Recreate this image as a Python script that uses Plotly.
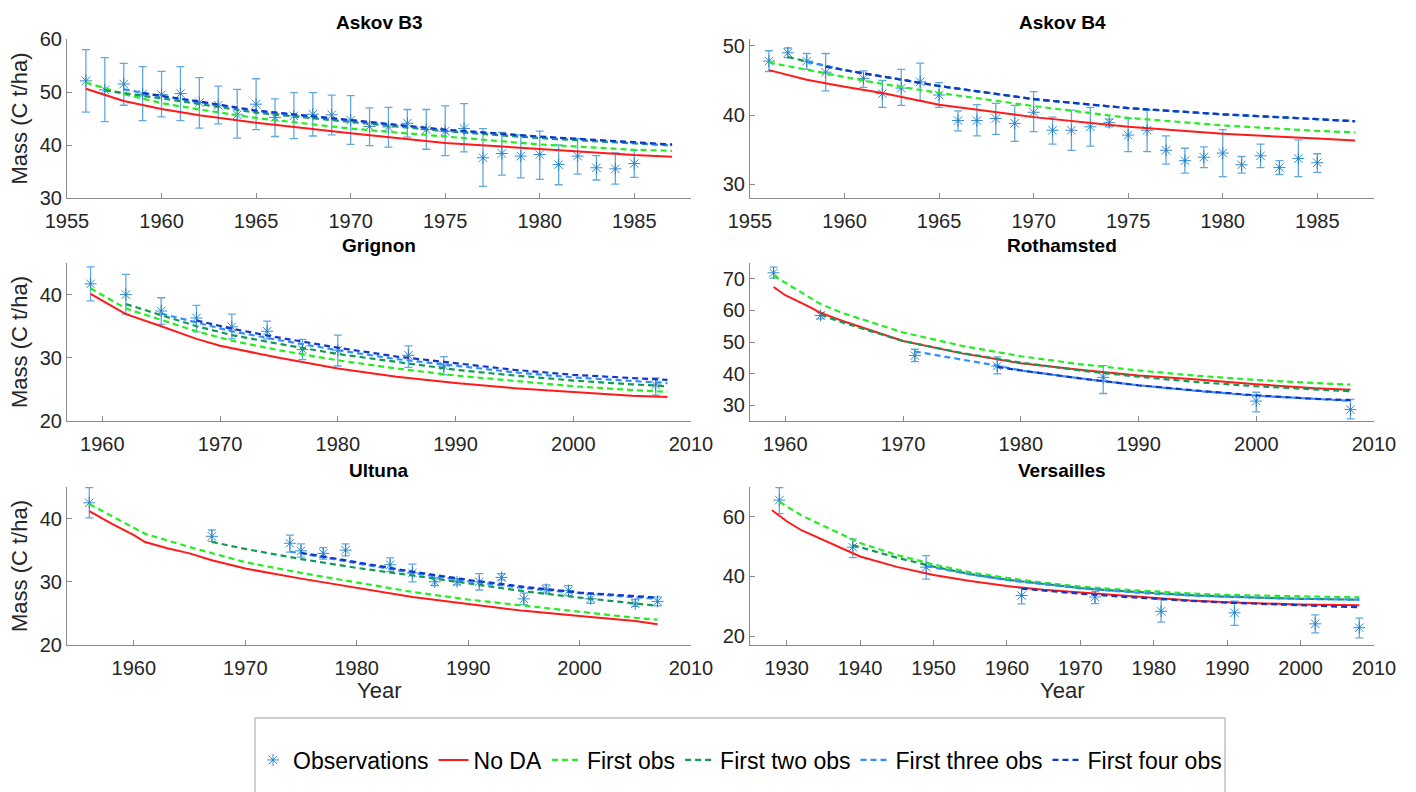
import plotly.graph_objects as go

# ---------------- Askov B3 ----------------
b3_obs_year = list(range(1956, 1986))
b3_obs_val = [52.1, 50.4, 51.5, 49.6, 49.5, 49.7, 48.0, 47.5, 45.7, 47.7, 45.2, 45.5, 45.8, 45.7, 44.7,
              43.5, 43.4, 44.1, 42.9, 42.6, 43.1, 37.6, 38.4, 37.9, 38.2, 36.3, 37.9, 35.7, 35.5, 36.5]
b3_obs_hi = [58.0, 56.5, 55.4, 54.8, 53.9, 54.8, 52.7, 51.1, 50.5, 52.5, 48.7, 49.9, 49.9, 49.4, 49.3,
             47.0, 47.1, 46.7, 46.7, 47.4, 47.8, 43.1, 42.4, 41.9, 42.6, 40.0, 41.2, 38.0, 38.5, 39.0]
b3_obs_lo = [46.2, 44.4, 47.5, 44.6, 45.3, 44.6, 43.2, 44.0, 41.3, 42.9, 41.6, 41.2, 41.7, 41.9, 40.1,
             39.9, 39.6, 41.5, 39.2, 38.0, 38.7, 32.2, 34.3, 33.8, 33.5, 32.5, 34.5, 33.4, 32.6, 33.9]
b3_noda_year = [1956, 1958, 1960, 1962, 1965, 1968, 1970, 1975, 1980, 1985, 1987]
b3_noda_val = [50.6, 48.3, 46.8, 45.6, 44.2, 43.0, 42.2, 40.4, 39.2, 38.1, 37.8]
b3_f1_year = [1956, 1958, 1960, 1962, 1965, 1970, 1975, 1980, 1985, 1987]
b3_f1_val = [51.8, 49.6, 47.9, 46.7, 45.1, 43.1, 41.6, 40.1, 39.1, 38.9]
b3_f2_year = [1957, 1960, 1965, 1970, 1975, 1980, 1985, 1987]
b3_f2_val = [50.3, 48.8, 46.1, 44.3, 42.6, 41.3, 40.3, 39.9]
b3_f3_year = [1958, 1960, 1962, 1965, 1970, 1975, 1980, 1985, 1987]
b3_f3_val = [50.5, 49.2, 48.1, 46.4, 44.6, 42.8, 41.5, 40.4, 40.0]
b3_f4_year = [1959, 1960, 1962, 1965, 1970, 1975, 1980, 1985, 1987]
b3_f4_val = [49.8, 49.3, 48.2, 46.5, 44.7, 42.9, 41.6, 40.5, 40.1]

# ---------------- Askov B4 ----------------
b4_obs_year = [1956, 1957, 1958, 1959, 1961, 1962, 1963, 1964, 1965, 1966, 1967, 1968, 1969, 1970,
               1971, 1972, 1973, 1974, 1975, 1976, 1977, 1978, 1979, 1980, 1981, 1982, 1983, 1984, 1985]
b4_obs_val = [47.8, 49.0, 47.8, 46.2, 45.3, 43.1, 43.9, 44.8, 42.9, 39.2, 39.2, 39.5, 38.8, 40.4,
              37.8, 37.8, 38.3, 38.9, 37.1, 37.8, 34.9, 33.4, 33.9, 34.5, 32.8, 34.1, 32.4, 33.7, 33.1]
b4_obs_hi = [49.3, 49.7, 48.9, 48.9, 46.4, 45.0, 46.6, 47.5, 44.7, 40.6, 41.5, 41.7, 41.4, 43.4,
             39.7, 40.7, 41.1, 39.4, 39.5, 40.7, 37.0, 35.2, 35.4, 37.9, 34.0, 35.8, 33.4, 36.4, 34.4]
b4_obs_lo = [46.3, 48.3, 46.6, 43.5, 44.0, 41.1, 41.4, 42.1, 41.1, 37.7, 37.0, 37.2, 36.2, 37.6,
             35.8, 34.9, 35.5, 38.3, 34.7, 34.7, 32.9, 31.6, 32.4, 31.1, 31.6, 32.4, 31.4, 31.1, 31.7]
b4_noda_year = [1956, 1958, 1960, 1962, 1965, 1970, 1975, 1980, 1985, 1987]
b4_noda_val = [46.5, 45.1, 44.1, 43.2, 41.5, 39.7, 38.3, 37.3, 36.6, 36.3]
b4_f1_year = [1956, 1958, 1960, 1962, 1965, 1970, 1975, 1980, 1985, 1987]
b4_f1_val = [47.6, 46.5, 45.5, 44.5, 43.2, 41.3, 39.6, 38.5, 37.7, 37.5]
b4_f2_year = [1957, 1960, 1965, 1970, 1975, 1980, 1985, 1987]
b4_f2_val = [48.4, 46.5, 44.2, 42.3, 41.0, 40.1, 39.4, 39.1]
b4_f3_year = [1958, 1960, 1965, 1970, 1975, 1980, 1985, 1987]
b4_f3_val = [47.7, 46.5, 44.2, 42.3, 41.0, 40.1, 39.4, 39.1]
b4_f4_year = [1959, 1960, 1965, 1970, 1975, 1980, 1985, 1987]
b4_f4_val = [47.0, 46.5, 44.2, 42.3, 41.0, 40.1, 39.4, 39.1]

# ---------------- Grignon ----------------
gr_obs_year = [1959, 1962, 1965, 1968, 1971, 1974, 1977, 1980, 1986, 1989, 2007]
gr_obs_val = [41.7, 40.0, 37.4, 36.3, 34.9, 34.2, 31.3, 31.2, 30.4, 28.7, 25.7]
gr_obs_hi = [44.4, 43.2, 39.5, 38.3, 36.9, 35.8, 32.9, 33.6, 31.9, 30.2, 26.8]
gr_obs_lo = [39.0, 36.9, 35.3, 34.1, 33.0, 33.0, 29.7, 28.7, 28.5, 27.3, 24.1]
gr_noda_year = [1959, 1960, 1962, 1965, 1968, 1970, 1975, 1980, 1985, 1990, 1995, 2000, 2005, 2008]
gr_noda_val = [40.1, 39.0, 36.9, 35.0, 33.0, 31.9, 30.0, 28.3, 27.0, 26.0, 25.2, 24.6, 24.0, 23.8]
gr_f1_year = [1959, 1962, 1965, 1968, 1971, 1975, 1980, 1985, 1990, 1995, 2000, 2005, 2008]
gr_f1_val = [41.0, 37.8, 36.0, 34.2, 32.7, 31.2, 29.6, 28.3, 27.2, 26.3, 25.5, 24.9, 24.6]
gr_f2_year = [1962, 1965, 1968, 1971, 1975, 1980, 1985, 1990, 1995, 2000, 2005, 2008]
gr_f2_val = [38.5, 36.8, 35.0, 33.6, 32.2, 30.6, 29.3, 28.1, 27.2, 26.4, 25.8, 25.5]
gr_f3_year = [1965, 1968, 1971, 1975, 1980, 1985, 1990, 1995, 2000, 2005, 2008]
gr_f3_val = [37.0, 35.6, 34.2, 32.8, 31.2, 29.8, 28.7, 27.7, 26.9, 26.3, 26.0]
gr_f4_year = [1968, 1971, 1975, 1980, 1985, 1990, 1995, 2000, 2005, 2008]
gr_f4_val = [35.9, 34.6, 33.2, 31.6, 30.2, 29.1, 28.1, 27.3, 26.8, 26.5]

# ---------------- Rothamsted ----------------
ro_obs_year = [1959, 1963, 1971, 1978, 1987, 2000, 2008]
ro_obs_val = [71.9, 58.4, 45.7, 42.4, 38.8, 31.3, 28.6]
ro_obs_hi = [73.7, 59.4, 47.7, 45.3, 42.5, 34.1, 31.8]
ro_obs_lo = [70.2, 57.3, 43.8, 39.9, 33.7, 27.9, 25.7]
ro_noda_year = [1959, 1960, 1962, 1963, 1965, 1970, 1975, 1980, 1985, 1990, 1995, 2000, 2005, 2008]
ro_noda_val = [67.4, 64.8, 61.2, 59.2, 56.5, 50.3, 46.4, 43.3, 41.2, 39.4, 38.1, 36.6, 35.4, 34.9]
ro_f1_year = [1959, 1963, 1965, 1970, 1975, 1980, 1985, 1990, 1995, 2000, 2005, 2008]
ro_f1_val = [71.0, 62.0, 59.0, 53.0, 48.8, 45.5, 43.0, 41.0, 39.3, 38.0, 37.0, 36.5]
ro_f2_year = [1963, 1965, 1970, 1975, 1980, 1985, 1990, 1995, 2000, 2005, 2008]
ro_f2_val = [58.6, 56.0, 50.3, 46.5, 43.5, 41.0, 39.0, 37.3, 36.0, 34.9, 34.4]
ro_f3_year = [1971, 1975, 1978, 1980, 1985, 1990, 1995, 2000, 2005, 2008]
ro_f3_val = [47.0, 44.5, 42.5, 41.0, 38.5, 36.3, 34.5, 33.0, 31.9, 31.4]
ro_f4_year = [1978, 1980, 1985, 1990, 1995, 2000, 2005, 2008]
ro_f4_val = [42.1, 41.0, 38.5, 36.3, 34.6, 33.1, 32.0, 31.6]

# ---------------- Ultuna ----------------
ul_obs_year = [1956, 1967, 1974, 1975, 1977, 1979, 1983, 1985, 1987, 1989, 1991, 1993, 1995, 1997,
               1999, 2001, 2005, 2007]
ul_obs_val = [42.5, 37.2, 36.1, 34.9, 34.5, 35.0, 32.7, 31.4, 30.0, 30.0, 30.0, 30.7, 27.3, 28.8,
              28.6, 27.3, 26.5, 26.9]
ul_obs_hi = [44.9, 38.2, 37.4, 36.0, 35.4, 36.0, 33.8, 32.8, 30.6, 30.5, 31.3, 31.3, 28.2, 29.5,
             29.4, 28.0, 27.2, 27.6]
ul_obs_lo = [40.1, 36.4, 34.7, 33.9, 33.6, 34.1, 31.6, 30.0, 29.4, 29.5, 28.7, 30.3, 26.4, 28.2,
             27.8, 26.6, 26.1, 26.2]
ul_noda_year = [1956, 1958, 1960, 1961, 1963, 1965, 1967, 1970, 1975, 1980, 1985, 1990, 1995, 2000, 2005, 2007]
ul_noda_val = [41.2, 39.2, 37.4, 36.3, 35.3, 34.5, 33.4, 32.1, 30.5, 29.0, 27.6, 26.5, 25.4, 24.6, 23.8, 23.3]
ul_f1_year = [1956, 1958, 1960, 1961, 1965, 1970, 1975, 1980, 1985, 1990, 1995, 2000, 2005, 2007]
ul_f1_val = [42.3, 40.4, 38.5, 37.6, 35.5, 33.1, 31.4, 29.9, 28.4, 27.2, 26.2, 25.3, 24.3, 24.0]
ul_f2_year = [1967, 1970, 1975, 1980, 1985, 1990, 1995, 2000, 2005, 2007]
ul_f2_val = [36.3, 35.2, 33.6, 32.2, 31.0, 29.7, 28.5, 27.5, 26.6, 26.2]
ul_f3_year = [1974, 1977, 1980, 1985, 1990, 1995, 2000, 2005, 2007]
ul_f3_val = [34.8, 33.9, 33.0, 31.4, 30.1, 29.0, 28.2, 27.5, 27.3]
ul_f4_year = [1975, 1980, 1985, 1990, 1995, 2000, 2005, 2007]
ul_f4_val = [34.6, 33.1, 31.6, 30.3, 29.2, 28.3, 27.7, 27.5]

# ---------------- Versailles ----------------
ve_obs_year = [1929, 1939, 1949, 1962, 1972, 1981, 1991, 2002, 2008]
ve_obs_val = [65.6, 49.8, 43.1, 33.6, 33.1, 28.3, 27.8, 24.1, 22.8]
ve_obs_hi = [69.8, 52.6, 47.0, 36.1, 35.0, 32.2, 31.7, 27.1, 26.0]
ve_obs_lo = [61.1, 46.3, 39.1, 30.8, 30.9, 24.7, 23.6, 21.1, 19.4]
ve_noda_year = [1928, 1930, 1932, 1935, 1940, 1945, 1950, 1955, 1960, 1965, 1970, 1975, 1980, 1985,
                1990, 1995, 2000, 2005, 2008]
ve_noda_val = [62.2, 58.5, 55.5, 52.2, 46.7, 43.2, 40.5, 38.5, 36.8, 35.5, 34.6, 33.6, 32.6, 31.9,
               31.3, 30.9, 30.6, 30.4, 30.3]
ve_f1_year = [1929, 1932, 1935, 1940, 1945, 1950, 1955, 1960, 1965, 1970, 1975, 1980, 1985, 1990,
              1995, 2000, 2005, 2008]
ve_f1_val = [65.0, 60.5, 57.0, 51.2, 47.2, 44.0, 41.4, 39.5, 37.9, 36.6, 35.7, 34.9, 34.3, 33.8,
             33.5, 33.3, 33.1, 33.0]
ve_f2_year = [1939, 1945, 1950, 1955, 1960, 1965, 1970, 1975, 1980, 1985, 1990, 1995, 2000, 2005, 2008]
ve_f2_val = [50.5, 46.3, 43.3, 40.8, 38.9, 37.4, 36.1, 35.2, 34.4, 33.7, 33.2, 32.8, 32.5, 32.3, 32.2]
ve_f3_year = [1949, 1955, 1960, 1965, 1970, 1975, 1980, 1985, 1990, 1995, 2000, 2005, 2008]
ve_f3_val = [43.5, 40.7, 38.8, 37.3, 36.0, 35.1, 34.2, 33.6, 33.1, 32.8, 32.5, 32.3, 32.2]
ve_f4_year = [1962, 1965, 1970, 1975, 1980, 1985, 1990, 1995, 2000, 2005, 2008]
ve_f4_val = [35.9, 35.2, 34.2, 33.3, 32.5, 31.8, 31.2, 30.7, 30.2, 29.9, 29.7]

# ---------------- panels & axes settings ----------------
panel_titles = ["Askov B3", "Askov B4", "Grignon", "Rothamsted", "Ultuna", "Versailles"]
x_ranges = [[1955, 1988], [1955, 1988], [1957, 2010], [1957, 2010], [1954, 2010], [1925, 2010]]
x_ticks = [list(range(1955, 1986, 5)), list(range(1955, 1986, 5)), list(range(1960, 2011, 10)),
           list(range(1960, 2011, 10)), list(range(1960, 2011, 10)), list(range(1930, 2011, 10))]
y_ranges = [[30, 60], [28, 51], [20, 45], [25, 75], [20, 45], [17, 70]]
y_ticks = [[30, 40, 50, 60], [30, 40, 50], [20, 30, 40], [30, 40, 50, 60, 70], [20, 30, 40], [20, 40, 60]]
series_names = ["Observations", "No DA", "First obs", "First two obs", "First three obs", "First four obs"]

panels = [
    (b3_obs_year, b3_obs_val, b3_obs_hi, b3_obs_lo,
     [(b3_noda_year, b3_noda_val), (b3_f1_year, b3_f1_val), (b3_f2_year, b3_f2_val),
      (b3_f3_year, b3_f3_val), (b3_f4_year, b3_f4_val)]),
    (b4_obs_year, b4_obs_val, b4_obs_hi, b4_obs_lo,
     [(b4_noda_year, b4_noda_val), (b4_f1_year, b4_f1_val), (b4_f2_year, b4_f2_val),
      (b4_f3_year, b4_f3_val), (b4_f4_year, b4_f4_val)]),
    (gr_obs_year, gr_obs_val, gr_obs_hi, gr_obs_lo,
     [(gr_noda_year, gr_noda_val), (gr_f1_year, gr_f1_val), (gr_f2_year, gr_f2_val),
      (gr_f3_year, gr_f3_val), (gr_f4_year, gr_f4_val)]),
    (ro_obs_year, ro_obs_val, ro_obs_hi, ro_obs_lo,
     [(ro_noda_year, ro_noda_val), (ro_f1_year, ro_f1_val), (ro_f2_year, ro_f2_val),
      (ro_f3_year, ro_f3_val), (ro_f4_year, ro_f4_val)]),
    (ul_obs_year, ul_obs_val, ul_obs_hi, ul_obs_lo,
     [(ul_noda_year, ul_noda_val), (ul_f1_year, ul_f1_val), (ul_f2_year, ul_f2_val),
      (ul_f3_year, ul_f3_val), (ul_f4_year, ul_f4_val)]),
    (ve_obs_year, ve_obs_val, ve_obs_hi, ve_obs_lo,
     [(ve_noda_year, ve_noda_val), (ve_f1_year, ve_f1_val), (ve_f2_year, ve_f2_val),
      (ve_f3_year, ve_f3_val), (ve_f4_year, ve_f4_val)]),
]

W, H = 1416, 792
FONT = "Liberation Sans, Arial, Helvetica, sans-serif"
line_styles = [
    dict(color="#ff1a1a", width=2, dash="solid"),
    dict(color="#22ee22", width=2.2, dash="6px,4px"),
    dict(color="#129a55", width=2.2, dash="6px,4px"),
    dict(color="#2f8fff", width=2.2, dash="6px,4px"),
    dict(color="#1236c8", width=2.2, dash="6px,4px"),
]
obs_color = "#1f7fc6"

# pixel layout of the axes boxes
x_px = [(67, 691), (750, 1374)]
y_px = [(39, 198), (263, 421), (487, 645)]

fig = go.Figure()
layout = {}
annotations = []
for i, (oy, ov, ohi, olo, lines) in enumerate(panels):
    r, c = divmod(i, 2)
    ax = "" if i == 0 else str(i + 1)
    xa, ya = "x" + ax, "y" + ax
    x0, x1 = x_px[c]
    yt, yb = y_px[r]
    err_up = [h - v for h, v in zip(ohi, ov)]
    err_dn = [v - l for v, l in zip(ov, olo)]
    fig.add_trace(go.Scatter(
        x=oy, y=ov, mode="markers", name=series_names[0], legendgroup="obs",
        showlegend=(i == 0), xaxis=xa, yaxis=ya,
        marker=dict(symbol="asterisk-open", size=10, color=obs_color,
                    line=dict(color=obs_color, width=0.9)),
        error_y=dict(type="data", symmetric=False, array=err_up, arrayminus=err_dn,
                     color="rgba(60,145,215,0.8)", thickness=1.3, width=4),
    ))
    for k, (ly, lv) in enumerate(lines):
        fig.add_trace(go.Scatter(
            x=ly, y=lv, mode="lines", name=series_names[k + 1], legendgroup=series_names[k + 1],
            showlegend=(i == 0), xaxis=xa, yaxis=ya, line=line_styles[k],
        ))
    axcommon = dict(showgrid=False, zeroline=False, showline=True, linecolor="#8a8a8a", linewidth=1,
                    ticks="inside", ticklen=5, tickcolor="#8a8a8a", automargin=False,
                    tickfont=dict(family=FONT, size=20, color="#262626"))
    layout["xaxis" + ax] = dict(axcommon, domain=[x0 / W, x1 / W], range=x_ranges[i],
                                tickvals=x_ticks[i], anchor=ya, ticklabelstandoff=5)
    layout["yaxis" + ax] = dict(axcommon, domain=[1 - yb / H, 1 - yt / H], range=y_ranges[i],
                                tickvals=y_ticks[i], anchor=xa)
    annotations.append(dict(text="<b>%s</b>" % panel_titles[i], x=(x0 + x1) / 2 / W,
                            y=1 - (yt - 17) / H, xref="paper", yref="paper", showarrow=False,
                            font=dict(family=FONT, size=19, color="#000000"),
                            xanchor="center", yanchor="middle"))
    if c == 0:
        annotations.append(dict(text="Mass (C t/ha)", x=19 / W, y=1 - (yt + yb) / 2 / H,
                                xref="paper", yref="paper", showarrow=False, textangle=-90,
                                font=dict(family=FONT, size=22, color="#262626"),
                                xanchor="center", yanchor="middle"))
    if r == 2:
        annotations.append(dict(text="Year", x=(x0 + x1) / 2 / W, y=1 - 690 / H,
                                xref="paper", yref="paper", showarrow=False,
                                font=dict(family=FONT, size=22, color="#262626"),
                                xanchor="center", yanchor="middle"))

fig.update_layout(
    **layout,
    width=W, height=H,
    margin=dict(l=0, r=0, t=0, b=0, autoexpand=False),
    paper_bgcolor="white", plot_bgcolor="white",
    annotations=annotations,
    showlegend=True,
    legend=dict(orientation="h", x=740 / W, xanchor="center", y=1 - 760 / H, yanchor="middle",
                font=dict(family=FONT, size=23, color="#000000"), bgcolor="rgba(0,0,0,0)",
                itemwidth=30, tracegroupgap=0),
    shapes=[dict(type="rect", xref="paper", yref="paper", x0=255 / W, x1=1225 / W,
                 y0=1 - 718 / H, y1=-0.05, line=dict(color="#a0a0a0", width=1),
                 fillcolor="rgba(0,0,0,0)")],
)

fig.write_html("out.html")
